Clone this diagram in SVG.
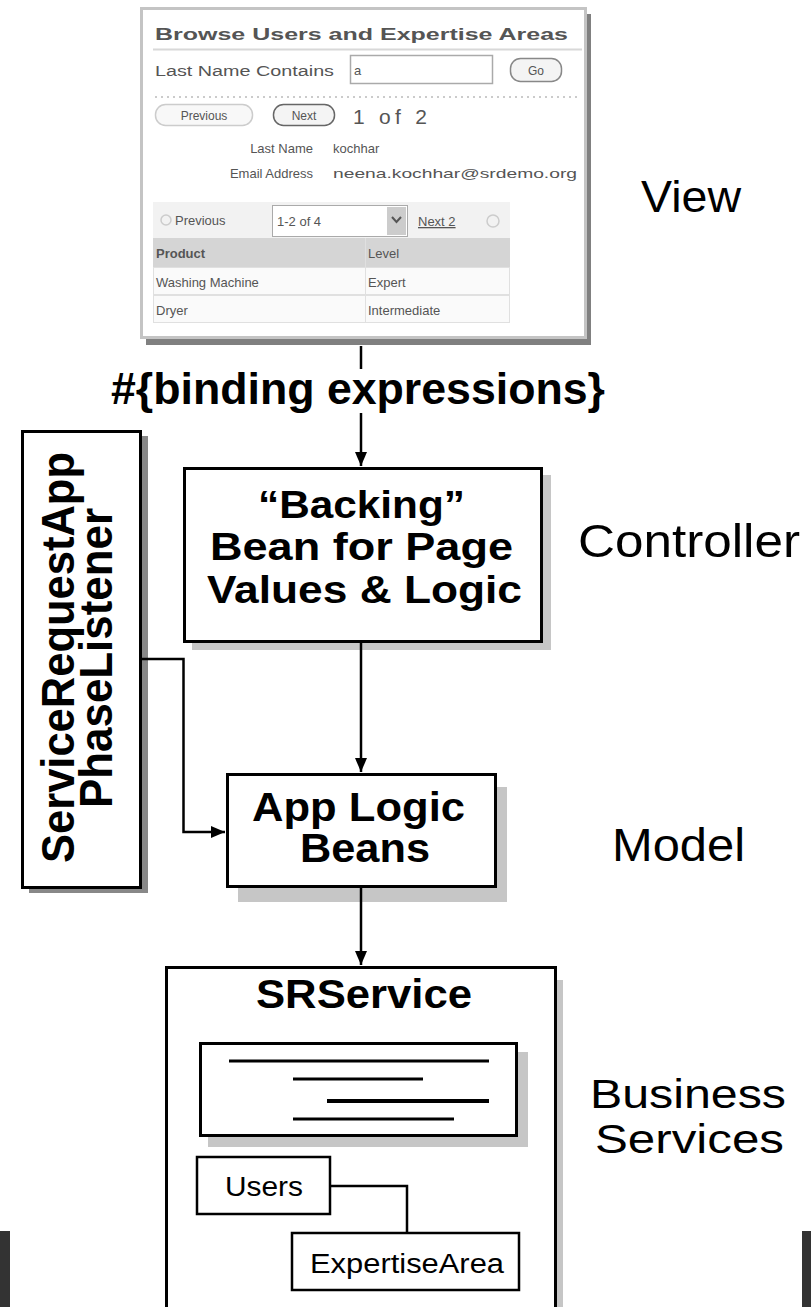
<svg xmlns="http://www.w3.org/2000/svg" width="811" height="1307" viewBox="0 0 811 1307">
<style>
.box{fill:#fff;stroke:#000;stroke-width:3}
.shadow{fill:#c6c6c6}
.bold{font-family:"Liberation Sans",Arial,sans-serif;font-weight:bold;fill:#000}
.thin{font-family:"Liberation Sans Narrow","Liberation Sans",Arial,sans-serif;fill:#000}
.ui{font-family:"Liberation Sans",Arial,sans-serif;fill:#555}
.conn{fill:none;stroke:#000;stroke-width:2.5}
</style>
<defs>
<marker id="arrow" viewBox="0 0 14 12" refX="14" refY="6" markerWidth="14" markerHeight="12" markerUnits="userSpaceOnUse" orient="auto">
<path d="M0,0 L14,6 L0,12 z" fill="#000"/>
</marker>
</defs>
<rect width="811" height="1307" fill="#fff"/>

<g id="view-screenshot">
<rect x="146" y="14" width="445" height="331" fill="#808080"/>
<rect x="141.5" y="8.5" width="444" height="329" fill="#fff" stroke="#c4c4c4" stroke-width="3"/>
<text class="ui" x="155" y="40" font-size="17" font-weight="bold" fill="#666" textLength="413" lengthAdjust="spacingAndGlyphs">Browse Users and Expertise Areas</text>
<line x1="153" y1="49.5" x2="582" y2="49.5" stroke="#d8d8d8" stroke-width="2"/>
<text class="ui" x="155" y="76" font-size="14" textLength="179" lengthAdjust="spacingAndGlyphs">Last Name Contains</text>
<rect x="350.5" y="55.5" width="142" height="28" fill="#fff" stroke="#aaa" stroke-width="1.5"/>
<text class="ui" x="354" y="75" font-size="13">a</text>
<rect x="510.5" y="58.5" width="51" height="23" rx="10" fill="#f4f4f4" stroke="#888" stroke-width="1.5"/>
<text class="ui" x="536" y="75" font-size="12" text-anchor="middle">Go</text>
<line x1="155" y1="97" x2="580" y2="97" stroke="#bbb" stroke-width="1.5" stroke-dasharray="2 4"/>
<rect x="155.5" y="104.5" width="97" height="21" rx="10" fill="#f8f8f8" stroke="#ccc" stroke-width="1.5"/>
<text class="ui" x="204" y="120" font-size="12" text-anchor="middle" fill="#bbb">Previous</text>
<rect x="273.5" y="104.5" width="61" height="21" rx="10" fill="#f4f4f4" stroke="#666" stroke-width="1.5"/>
<text class="ui" x="304" y="120" font-size="12" text-anchor="middle" fill="#333">Next</text>
<text class="ui" x="353" y="124" font-size="21" textLength="74" lengthAdjust="spacing">1 of 2</text>
<text class="ui" x="313" y="153" font-size="13" text-anchor="end">Last Name</text>
<text class="ui" x="333" y="153" font-size="13">kochhar</text>
<text class="ui" x="313" y="178" font-size="13" text-anchor="end">Email Address</text>
<text class="ui" x="333" y="178" font-size="13" textLength="244" lengthAdjust="spacingAndGlyphs">neena.kochhar@srdemo.org</text>
<rect x="153" y="202" width="357" height="36" fill="#f2f2f2"/>
<circle cx="166" cy="220" r="5" fill="none" stroke="#ccc" stroke-width="1.5"/>
<text class="ui" x="175" y="225" font-size="13" fill="#c8c8c8">Previous</text>
<rect x="272.5" y="205.5" width="135" height="31" fill="#fff" stroke="#aaa"/>
<text class="ui" x="277" y="226" font-size="13" fill="#444">1-2 of 4</text>
<rect x="387" y="207" width="19" height="28" fill="#ccc"/>
<path d="M392,217 L396.5,222 L401,217" fill="none" stroke="#555" stroke-width="2"/>
<text class="ui" x="418" y="226" font-size="13" fill="#888" text-decoration="underline">Next 2</text>
<circle cx="493" cy="221" r="6" fill="none" stroke="#ccc" stroke-width="1.5"/>
<rect x="153" y="238" width="357" height="29" fill="#d5d5d5"/>
<text class="ui" x="156" y="258" font-size="13" font-weight="bold" fill="#555">Product</text>
<text class="ui" x="368" y="258" font-size="13" fill="#555">Level</text>
<rect x="153.5" y="267.5" width="356" height="27" fill="#fafafa" stroke="#e0e0e0"/>
<rect x="153.5" y="295.5" width="356" height="27" fill="#fafafa" stroke="#e0e0e0"/>
<line x1="365.5" y1="238" x2="365.5" y2="323" stroke="#e0e0e0"/>
<text class="ui" x="156" y="287" font-size="13" fill="#444">Washing Machine</text>
<text class="ui" x="368" y="287" font-size="13" fill="#444">Expert</text>
<text class="ui" x="156" y="315" font-size="13" fill="#444">Dryer</text>
<text class="ui" x="368" y="315" font-size="13" fill="#444">Intermediate</text>
</g>

<g id="label-binding">
<text class="bold" x="358" y="404" font-size="44" text-anchor="middle" textLength="494" lengthAdjust="spacingAndGlyphs">#{binding expressions}</text>
</g>

<g id="phase-listener">
<rect x="29" y="436" width="119" height="457" fill="#888"/>
<rect class="box" x="22.5" y="431.5" width="118" height="456"/>
<text class="bold" transform="translate(74,657.5) rotate(-90)" font-size="46" text-anchor="middle" textLength="411" lengthAdjust="spacingAndGlyphs">ServiceRequestApp</text>
<text class="bold" transform="translate(112,658) rotate(-90)" font-size="46" text-anchor="middle" textLength="300" lengthAdjust="spacingAndGlyphs">PhaseListener</text>
</g>

<g id="backing-bean">
<rect class="shadow" x="192" y="475" width="359" height="175"/>
<rect class="box" x="184.5" y="468.5" width="357" height="173"/>
<text class="bold" x="361.5" y="518" font-size="39" text-anchor="middle" textLength="207" lengthAdjust="spacingAndGlyphs">“Backing”</text>
<text class="bold" x="361.5" y="560" font-size="39" text-anchor="middle" textLength="303" lengthAdjust="spacingAndGlyphs">Bean for Page</text>
<text class="bold" x="364.5" y="603" font-size="39" text-anchor="middle" textLength="315" lengthAdjust="spacingAndGlyphs">Values &amp; Logic</text>
</g>

<g id="app-logic">
<rect class="shadow" x="238" y="787" width="269" height="115"/>
<rect class="box" x="227.5" y="774.5" width="268" height="112"/>
<text class="bold" x="358.5" y="821" font-size="40" text-anchor="middle" textLength="213" lengthAdjust="spacingAndGlyphs">App Logic</text>
<text class="bold" x="365" y="862" font-size="40" text-anchor="middle" textLength="130" lengthAdjust="spacingAndGlyphs">Beans</text>
</g>

<g id="srservice">
<rect class="shadow" x="171" y="980" width="392" height="400"/>
<rect class="box" x="166.5" y="967.5" width="389" height="400"/>
<text class="bold" x="364" y="1008" font-size="40" text-anchor="middle" textLength="216" lengthAdjust="spacingAndGlyphs">SRService</text>
<g id="srservice-doc">
<rect class="shadow" x="208" y="1052" width="320" height="95"/>
<rect class="box" x="200.5" y="1043.5" width="316" height="92"/>
<line x1="229" y1="1061" x2="489" y2="1061" stroke="#000" stroke-width="3"/>
<line x1="293" y1="1079" x2="423" y2="1079" stroke="#000" stroke-width="3"/>
<line x1="327" y1="1101" x2="489" y2="1101" stroke="#000" stroke-width="4"/>
<line x1="293" y1="1119" x2="454" y2="1119" stroke="#000" stroke-width="3"/>
</g>
<g id="users">
<rect x="197" y="1157" width="133" height="57" fill="#fff" stroke="#000" stroke-width="2.5"/>
<text class="thin" x="225" y="1196" font-size="27" textLength="78" lengthAdjust="spacingAndGlyphs">Users</text>
</g>
<g id="expertise-area">
<rect x="292" y="1233" width="227" height="57" fill="#fff" stroke="#000" stroke-width="2.5"/>
<text class="thin" x="310" y="1273" font-size="27" textLength="194" lengthAdjust="spacingAndGlyphs">ExpertiseArea</text>
</g>
</g>

<g id="connectors">
<path class="conn" d="M361,346 V369"/>
<path class="conn" d="M361,413 V466" marker-end="url(#arrow)"/>
<path class="conn" d="M361,643 V772" marker-end="url(#arrow)"/>
<path class="conn" d="M142,659 H183.5 V832 H225" marker-end="url(#arrow)"/>
<path class="conn" d="M361,888 V965" marker-end="url(#arrow)"/>
<path class="conn" d="M331,1186 H407 V1233"/>
</g>

<g id="layer-labels">
<text class="thin" x="641" y="212" font-size="44" textLength="100" lengthAdjust="spacingAndGlyphs">View</text>
<text class="thin" x="578" y="557" font-size="46" textLength="222" lengthAdjust="spacingAndGlyphs">Controller</text>
<text class="thin" x="612" y="861" font-size="46" textLength="133" lengthAdjust="spacingAndGlyphs">Model</text>
<text class="thin" x="590" y="1108" font-size="40" textLength="196" lengthAdjust="spacingAndGlyphs">Business</text>
<text class="thin" x="595" y="1153" font-size="40" textLength="189" lengthAdjust="spacingAndGlyphs">Services</text>
</g>

<g id="edge-bars">
<rect x="0" y="1231" width="10" height="76" fill="#333"/>
<rect x="802" y="1231" width="9" height="76" fill="#333"/>
</g>
</svg>
